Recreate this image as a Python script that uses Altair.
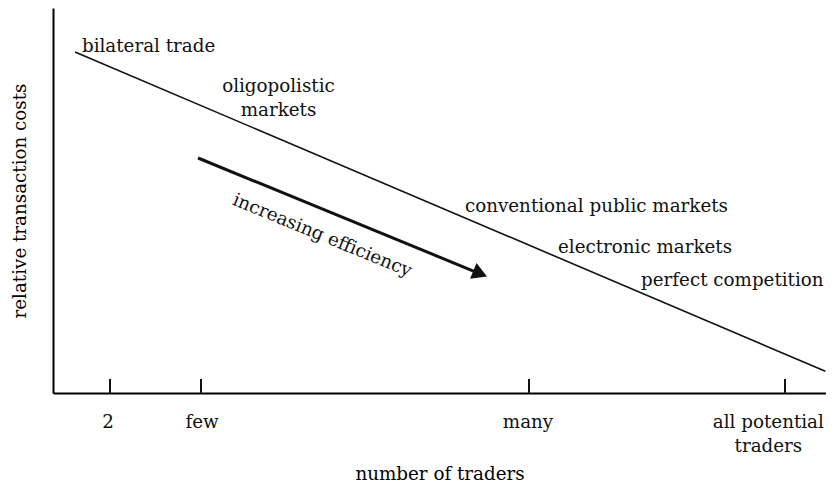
import math
import altair as alt
import pandas as pd

W, H = 773, 385
X_MAX = 98.98   # 7.81 px per unit
FONT = "DejaVu Serif"
FS = 18.3

# diagonal: relative transaction costs falling with number of traders
curve_x = [2.82, 98.9]
curve_y = [88.57, 5.65]

# x axis categories
tick_names = ["2", "few", "many", "all potential\ntraders"]
tick_pos = [7.30, 18.95, 60.95, 93.73]
tick_label_x = [7.04, 19.08, 60.82, 91.6]
tick_label_y = -9.09
tick_len = 3.64

# market type annotations
left_labels = ["bilateral trade", "conventional public markets", "electronic markets", "perfect competition"]
left_x = [3.71, 52.75, 64.66, 75.3]
left_y = [88.57, 47.09, 36.44, 27.79]
center_labels = ["oligopolistic\nmarkets"]
center_x = [28.87]
center_y = [78.1]

# efficiency arrow
arrow_x = [18.57, 55.70]
arrow_y = [61.04, 30.13]
arrow_text = "increasing efficiency"
arrow_text_x = 34.44
arrow_text_y = 40.78

sx = alt.Scale(domain=[0, X_MAX], nice=False, zero=False)
sy = alt.Scale(domain=[0, 100], nice=False, zero=False)
x_axis = alt.Axis(title="number of traders", labels=False, ticks=False, grid=False,
                  domainColor="black", domainWidth=2, titleFont=FONT, titleFontSize=FS,
                  titleFontWeight="normal", titleColor="black", titlePadding=72)
y_axis = alt.Axis(title="relative transaction costs", labels=False, ticks=False, grid=False,
                  domainColor="black", domainWidth=2, titleFont=FONT, titleFontSize=FS,
                  titleFontWeight="normal", titleColor="black", titlePadding=24)


def X(f):
    return alt.X(f, type="quantitative", scale=sx, axis=x_axis)


def Y(f):
    return alt.Y(f, type="quantitative", scale=sy, axis=y_axis)


curve_df = pd.DataFrame({"x": curve_x, "y": curve_y})
curve = alt.Chart(curve_df).mark_line(color="#111", strokeWidth=1.6).encode(x=X("x"), y=Y("y"))

ticks_df = pd.DataFrame({"x": tick_pos, "y0": [0] * 4, "y1": [tick_len] * 4})
ticks = alt.Chart(ticks_df).mark_rule(color="#111", strokeWidth=2).encode(
    x=X("x"), y=Y("y0"), y2="y1")

tl_df = pd.DataFrame({"x": tick_label_x, "y": [tick_label_y] * 4, "t": tick_names})
tick_labels = alt.Chart(tl_df).mark_text(font=FONT, fontSize=FS, align="center",
                                         baseline="alphabetic", lineBreak="\n",
                                         lineHeight=24, color="#111").encode(
    x=X("x"), y=Y("y"), text="t")

ll_df = pd.DataFrame({"x": left_x, "y": left_y, "t": left_labels})
left_text = alt.Chart(ll_df).mark_text(font=FONT, fontSize=FS, align="left",
                                       baseline="alphabetic", color="#111").encode(
    x=X("x"), y=Y("y"), text="t")

cl_df = pd.DataFrame({"x": center_x, "y": center_y, "t": center_labels})
center_text = alt.Chart(cl_df).mark_text(font=FONT, fontSize=FS, align="center",
                                         baseline="alphabetic", lineBreak="\n",
                                         lineHeight=23.5, color="#111").encode(
    x=X("x"), y=Y("y"), text="t")

# arrow geometry in pixel space
PXU_X = W / X_MAX
PXU_Y = H / 100
dxp = (arrow_x[1] - arrow_x[0]) * PXU_X
dyp = (arrow_y[0] - arrow_y[1]) * PXU_Y
ang = math.degrees(math.atan2(dyp, dxp))
r = 8.5
head_x = arrow_x[1] - r * math.cos(math.radians(ang)) / PXU_X
head_y = arrow_y[1] + r * math.sin(math.radians(ang)) / PXU_Y

shaft_df = pd.DataFrame({"x": [arrow_x[0], head_x], "y": [arrow_y[0], head_y]})
shaft = alt.Chart(shaft_df).mark_line(color="#111", strokeWidth=3).encode(x=X("x"), y=Y("y"))
head_df = pd.DataFrame({"x": [head_x], "y": [head_y]})
head = alt.Chart(head_df).mark_point(shape="triangle-right", size=290, filled=True,
                                     color="#111", opacity=1, angle=ang).encode(
    x=X("x"), y=Y("y"))

at_df = pd.DataFrame({"x": [arrow_text_x], "y": [arrow_text_y], "t": [arrow_text]})
arrow_label = alt.Chart(at_df).mark_text(font=FONT, fontSize=FS, align="center",
                                         baseline="middle", angle=ang, color="#111").encode(
    x=X("x"), y=Y("y"), text="t")

chart = alt.layer(curve, ticks, tick_labels, left_text, center_text, shaft, head, arrow_label).properties(
    width=W, height=H,
    background="white",
    autosize=alt.AutoSizeParams(type="none"),
    padding={"left": 45, "top": 0, "right": 0, "bottom": 92},
).configure_view(stroke=None)

chart.save("out.html", embed_options={"renderer": "svg", "actions": False})
